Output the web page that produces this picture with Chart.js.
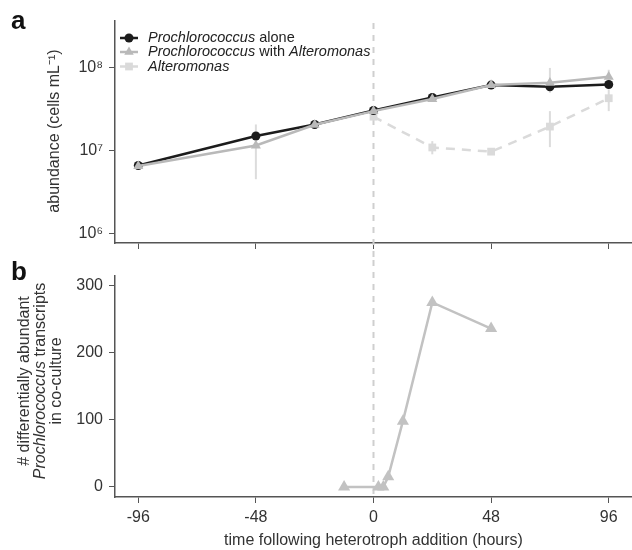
<!DOCTYPE html>
<html>
<head>
<meta charset="utf-8">
<script src="https://cdn.jsdelivr.net/npm/chart.js@4.4.1/dist/chart.umd.min.js"></script>
<style>
    html, body { margin: 0; padding: 0; background: #fff; }
    #wrap { position: relative; width: 632px; height: 550px; }
    #chartA { position: absolute; left: 0; top: 0; }
    #chartB { position: absolute; left: 0; top: 260px; }
</style>
</head>
<body>
<div id="wrap">
    <canvas id="chartA" width="632" height="260"></canvas>
    <canvas id="chartB" width="632" height="290"></canvas>
</div>
<script>
// panel a : abundance (cells per mL)
const hours = [-96, -48, -24, 0, 24, 48, 72, 96];
const proAlone = [6.6e6, 1.5e7, 2.07e7, 3.05e7, 4.4e7, 6.2e7, 5.9e7, 6.3e7];
const proWithAlt = [6.5e6, 1.15e7, 2.05e7, 3.0e7, 4.2e7, 6.2e7, 6.6e7, 7.8e7];
const proWithAltLow = [null, 4.5e6, null, null, null, null, 5.0e7, 7.0e7];
const proWithAltHigh = [null, 2.07e7, null, null, null, null, 1.0e8, 9.5e7];
const alteroHours = [0, 24, 48, 72, 96];
const altero = [2.57e7, 1.09e7, 9.7e6, 1.95e7, 4.3e7];
const alteroLow = [null, 9.0e6, null, 1.1e7, 3.0e7];
const alteroHigh = [null, 1.3e7, null, 3.0e7, 5.5e7];

// panel b : differentially abundant transcripts
const transcriptHours = [-12, 2, 4, 6, 12, 24, 48];
const transcriptCounts = [0, 0, 0, 15, 98, 275, 236];

const hourTicks = [-96, -48, 0, 48, 96];
const abundanceTicks = [1e6, 1e7, 1e8];
const countTicks = [0, 100, 200, 300];

const FONT = '"Liberation Sans", Arial, Helvetica, sans-serif';
const BLACK = '#1c1c1c';
const GRAY = '#b9b9b9';
const LIGHT = '#dadada';
const AXIS = '#555';
const TEXT = '#333';
const sup = { 6: '⁶', 7: '⁷', 8: '⁸' };

function pts(xs, ys) {
    return xs.map((x, k) => ({ x: x, y: ys[k] }));
}

function richText(ctx, parts, x, y, size, align) {
    let total = 0;
    parts.forEach(p => {
        ctx.font = (p.i ? 'italic ' : '') + size + 'px ' + FONT;
        p.w = ctx.measureText(p.t).width;
        total += p.w;
    });
    let cx = align === 'center' ? x - total / 2 : x;
    ctx.textAlign = 'left';
    ctx.textBaseline = 'middle';
    parts.forEach(p => {
        ctx.font = (p.i ? 'italic ' : '') + size + 'px ' + FONT;
        ctx.fillText(p.t, cx, y);
        cx += p.w;
    });
}

function marker(ctx, style, x, y, r, color) {
    ctx.fillStyle = color;
    ctx.beginPath();
    if (style === 'circle') {
        ctx.arc(x, y, r, 0, Math.PI * 2);
    } else if (style === 'triangle') {
        ctx.moveTo(x, y - r);
        ctx.lineTo(x + r * 0.866, y + r * 0.5);
        ctx.lineTo(x - r * 0.866, y + r * 0.5);
        ctx.closePath();
    } else {
        ctx.rect(x - r * 0.707, y - r * 0.707, r * 1.414, r * 1.414);
    }
    ctx.fill();
}

function drawZeroLine(chart, top, bottom) {
    const ctx = chart.ctx;
    const x = chart.scales.x.getPixelForValue(0);
    ctx.save();
    ctx.strokeStyle = '#cfcfcf';
    ctx.lineWidth = 2;
    ctx.setLineDash([6, 6]);
    ctx.beginPath();
    ctx.moveTo(x, top);
    ctx.lineTo(x, bottom);
    ctx.stroke();
    ctx.restore();
}

function drawErrorBars(chart, xs, lows, highs) {
    const ctx = chart.ctx;
    ctx.save();
    ctx.strokeStyle = '#dcdcdc';
    ctx.lineWidth = 2;
    xs.forEach((h, k) => {
        if (lows[k] === null) return;
        const x = chart.scales.x.getPixelForValue(h);
        ctx.beginPath();
        ctx.moveTo(x, chart.scales.y.getPixelForValue(lows[k]));
        ctx.lineTo(x, chart.scales.y.getPixelForValue(highs[k]));
        ctx.stroke();
    });
    ctx.restore();
}

const extrasA = {
    id: 'extrasA',
    beforeDatasetsDraw(chart) {
        drawZeroLine(chart, chart.chartArea.top + 2, chart.height);
        drawErrorBars(chart, hours, proWithAltLow, proWithAltHigh);
        drawErrorBars(chart, alteroHours, alteroLow, alteroHigh);
    },
    afterDraw(chart) {
        const ctx = chart.ctx;
        ctx.save();
        ctx.fillStyle = '#111';
        ctx.font = 'bold 26px ' + FONT;
        ctx.textBaseline = 'alphabetic';
        ctx.fillText('a', 11, 29);

        ctx.fillStyle = TEXT;
        ctx.translate(55, 131);
        ctx.rotate(-Math.PI / 2);
        richText(ctx, [{ t: 'abundance (cells mL⁻¹)' }], 0, 0, 16, 'center');
        ctx.restore();

        // legend
        const rows = [
            { y: 38, color: BLACK, style: 'circle', r: 4.5, parts: [{ t: 'Prochlorococcus', i: true }, { t: ' alone' }] },
            { y: 52, color: GRAY, style: 'triangle', r: 5.5, parts: [{ t: 'Prochlorococcus', i: true }, { t: ' with ' }, { t: 'Alteromonas', i: true }] },
            { y: 66.5, color: LIGHT, style: 'rect', r: 5.5, parts: [{ t: 'Alteromonas', i: true }] }
        ];
        ctx.save();
        rows.forEach(row => {
            ctx.strokeStyle = row.color;
            ctx.lineWidth = 2.5;
            ctx.beginPath();
            ctx.moveTo(120, row.y);
            ctx.lineTo(138, row.y);
            ctx.stroke();
            marker(ctx, row.style, 129, row.y, row.r, row.color);
            ctx.fillStyle = '#222';
            richText(ctx, row.parts, 148, row.y, 14.5, 'left');
        });
        ctx.restore();
    }
};

const extrasB = {
    id: 'extrasB',
    beforeDatasetsDraw(chart) {
        drawZeroLine(chart, 0, chart.chartArea.bottom);
    },
    afterDraw(chart) {
        const ctx = chart.ctx;
        ctx.save();
        ctx.fillStyle = '#111';
        ctx.font = 'bold 26px ' + FONT;
        ctx.textBaseline = 'alphabetic';
        ctx.fillText('b', 11, 20);

        ctx.fillStyle = TEXT;
        ctx.translate(0, 121);
        ctx.rotate(-Math.PI / 2);
        richText(ctx, [{ t: '# differentially abundant' }], 0, 25, 16, 'center');
        richText(ctx, [{ t: 'Prochlorococcus', i: true }, { t: ' transcripts' }], 0, 41, 16, 'center');
        richText(ctx, [{ t: 'in co-culture' }], 0, 57, 16, 'center');
        ctx.restore();
    }
};

function xAxis(height, showLabels) {
    return {
        type: 'linear',
        min: -105.5,
        max: 105.5,
        afterBuildTicks: scale => { scale.ticks = hourTicks.map(v => ({ value: v })); },
        afterFit: scale => {
            scale.height = height;
            scale.paddingLeft = 0;
            scale.paddingRight = 0;
        },
        grid: { display: true, drawOnChartArea: false, drawTicks: true, tickLength: 6, color: AXIS },
        border: { display: true, color: AXIS, width: 1.5 },
        ticks: {
            display: showLabels,
            padding: 5,
            color: TEXT,
            font: { family: FONT, size: 16 },
            maxRotation: 0
        },
        title: {
            display: showLabels,
            text: 'time following heterotroph addition (hours)',
            color: TEXT,
            font: { family: FONT, size: 16 },
            padding: { top: 0, bottom: 0 }
        }
    };
}

new Chart(document.getElementById('chartA'), {
    type: 'line',
    data: {
        datasets: [{
            label: 'Prochlorococcus with Alteromonas',
            data: pts(hours, proWithAlt),
            borderColor: GRAY,
            backgroundColor: GRAY,
            borderWidth: 2.5,
            pointStyle: 'triangle',
            pointRadius: 5.8,
            pointBorderWidth: 0,
            order: 0
        }, {
            label: 'Prochlorococcus alone',
            data: pts(hours, proAlone),
            borderColor: BLACK,
            backgroundColor: BLACK,
            borderWidth: 2.5,
            pointStyle: 'circle',
            pointRadius: 4.5,
            pointBorderWidth: 0,
            order: 1
        }, {
            label: 'Alteromonas',
            data: pts(alteroHours, altero),
            borderColor: LIGHT,
            backgroundColor: LIGHT,
            borderWidth: 2.5,
            borderDash: [9, 7],
            pointStyle: 'rect',
            pointRadius: 5.5,
            pointBorderWidth: 0,
            order: 2
        }]
    },
    options: {
        responsive: false,
        animation: false,
        layout: { autoPadding: false, padding: { top: 21, left: 0, right: 0, bottom: 0 } },
        plugins: { legend: { display: false }, tooltip: { enabled: false } },
        scales: {
            x: xAxis(17, false),
            y: {
                type: 'logarithmic',
                min: 7.6e5,
                max: 3.7e8,
                afterBuildTicks: scale => { scale.ticks = abundanceTicks.map(v => ({ value: v })); },
                afterFit: scale => { scale.width = 115; },
                grid: { display: true, drawOnChartArea: false, drawTicks: true, tickLength: 6, color: AXIS },
                border: { display: true, color: AXIS, width: 1.5 },
                ticks: {
                    padding: 6,
                    color: TEXT,
                    font: { family: FONT, size: 16 },
                    callback: v => '10' + sup[Math.round(Math.log10(v))]
                }
            }
        }
    },
    plugins: [extrasA]
});

new Chart(document.getElementById('chartB'), {
    type: 'line',
    data: {
        datasets: [{
            label: 'Prochlorococcus transcripts',
            data: pts(transcriptHours, transcriptCounts),
            borderColor: '#c2c2c2',
            backgroundColor: '#c2c2c2',
            borderWidth: 2.5,
            pointStyle: 'triangle',
            pointRadius: 7,
            pointBorderWidth: 0
        }]
    },
    options: {
        responsive: false,
        animation: false,
        layout: { autoPadding: false, padding: { top: 14, left: 0, right: 0, bottom: 0 } },
        plugins: { legend: { display: false }, tooltip: { enabled: false } },
        scales: {
            x: xAxis(53, true),
            y: {
                type: 'linear',
                min: -15,
                max: 315,
                afterBuildTicks: scale => { scale.ticks = countTicks.map(v => ({ value: v })); },
                afterFit: scale => { scale.width = 115; },
                grid: { display: true, drawOnChartArea: false, drawTicks: true, tickLength: 6, color: AXIS },
                border: { display: true, color: AXIS, width: 1.5 },
                ticks: {
                    padding: 6,
                    color: TEXT,
                    font: { family: FONT, size: 16 }
                }
            }
        }
    },
    plugins: [extrasB]
});
</script>
</body>
</html>
